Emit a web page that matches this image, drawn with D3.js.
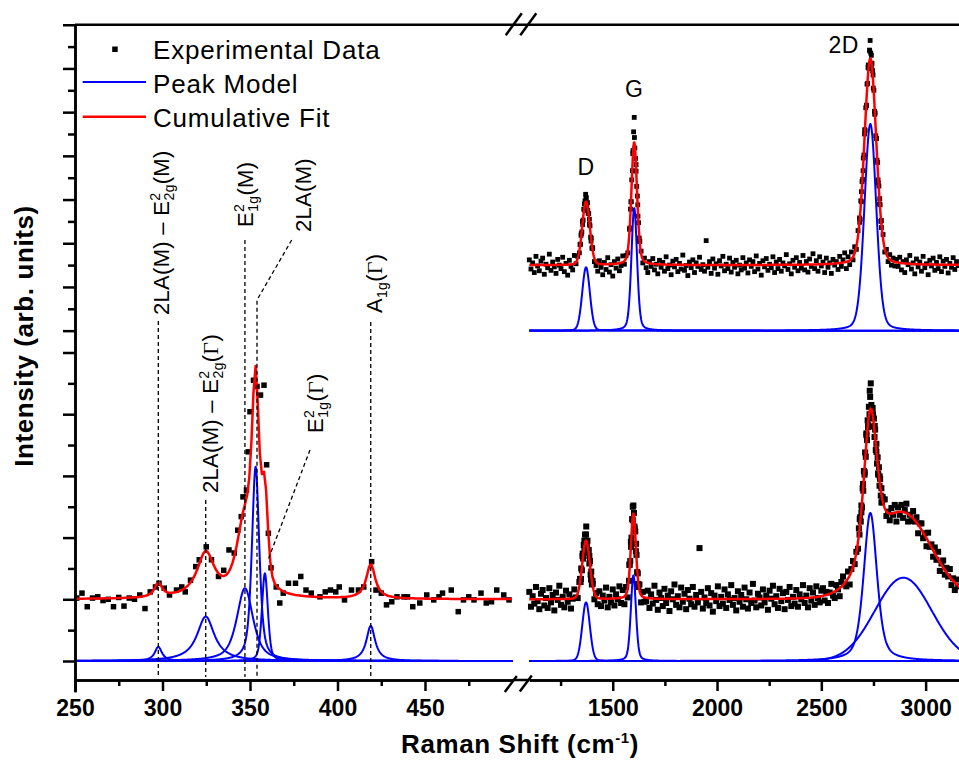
<!DOCTYPE html>
<html>
<head>
<meta charset="utf-8">
<script src="https://cdn.jsdelivr.net/npm/d3@7"></script>
<style>
  body { margin: 0; background: #fff; }
  svg { display: block; font-family: "Liberation Sans", Arial, sans-serif; }
  .axis .domain, .axis line { stroke: #000; stroke-width: 2.5; }
  .axis text { font-family: "Liberation Sans", Arial, sans-serif; font-weight: bold; font-size: 23px; fill: #000; }
</style>
</head>
<body>
<div id="chart"></div>
<script>
/* ---------- DATA ---------- */
// low wavenumber region (250-500 cm-1), [wavenumber, intensity]
const lowData = [[251,1.02],[254,1.10],[257,0.88],[260,1.02],[263,1.04],[266,0.98],[269,1.00],[272,0.88],[275,1.03],[278,0.89],
  [281,1.02],[284,1.00],[287,1.07],[290,0.85],[293,1.12],[296,1.20],[298,1.26],[301,1.18],[304,1.07],[308,1.15],
  [311,1.20],[313,1.12],[316,1.31],[319,1.53],[321,1.64],[325,1.85],[328,1.64],[332,1.37],[335,1.47],[338,1.80],
  [341,1.75],[343,2.12],[345,2.34],[346,2.66],[348,2.77],[349,3.39],[350,4.04],[352,4.55],[354,4.45],[356,4.31],
  [358,4.47],[359.5,3.18],[360.5,2.07],[362,1.51],[365,1.20],[367,0.94],[369,1.10],[372,1.26],[376,1.26],[379,1.37],
  [382,1.15],[385,1.10],[390,1.04],[393,1.12],[396,1.15],[399,1.12],[401,1.20],[404,0.99],[408,1.15],[412,1.15],
  [415,1.20],[419.5,1.61],[422,1.15],[425,1.10],[428,0.91],[431,0.96],[434,1.04],[438,1.04],[440,1.04],[443,0.88],
  [447,0.94],[451,1.07],[455,0.99],[458,1.04],[460,1.10],[465,1.15],[469,0.80],[472,0.99],[475,1.04],[478,0.99],
  [482,1.10],[485,0.94],[488,0.96],[491,1.15],[495,1.07],[498,0.99]];

// low region peak model
const lowCenter = [297.6, 324.7, 347.1, 353.2, 358.5, 419.0];
const lowHeight = [0.23, 0.72, 1.18, 3.15, 1.42, 0.57];
const lowFwhm = [5, 12, 11, 5, 4, 6];
const lowLorentz = [1, 1, 0.7, 0.6, 0.4, 1];
const lowOffset = 1.0;

// high wavenumber region, sampled every 8 cm-1 from 1100
const rightStart = 1100, rightStep = 8;
const topMain = [1.62,1.41,1.55,1.33,1.70,1.48,1.37,1.59,1.66,1.29,1.52,1.44,1.75,1.38,1.57,1.46,1.31,1.63,1.50,1.42,
  1.68,1.35,1.54,1.27,1.61,1.47,1.39,1.72,1.53,
  1.70,1.78,2.18,2.43,2.90,3.02,2.75,2.55,2.05,1.88,1.58,1.49,
  1.36,1.60,1.45,1.28,1.56,1.40,1.67,1.34,1.51,1.25,1.58,1.43,1.64,1.37,1.49,1.71,
  1.52,1.72,1.78,2.32,2.95,4.05,4.42,3.65,2.88,2.05,1.82,1.55,1.66,
  1.44,1.33,1.58,1.47,1.65,1.39,1.52,1.30,1.61,1.45,1.56,1.36,1.69,1.42,1.50,1.28,1.59,1.46,1.63,1.35,
  1.54,1.41,1.73,1.38,1.49,1.26,1.57,1.44,1.62,1.33,1.55,1.47,1.68,1.40,1.51,1.36,2.06,1.45,1.58,1.31,
  1.64,1.43,1.53,1.29,1.60,1.48,1.70,1.37,1.52,1.42,1.66,1.34,1.56,1.45,1.61,1.30,1.50,1.39,1.67,1.43,
  1.55,1.32,1.62,1.47,1.58,1.35,1.71,1.41,1.54,1.27,1.60,1.46,1.65,1.38,1.52,1.44,1.69,1.33,1.57,1.42,
  1.63,1.36,1.55,1.48,1.74,1.40,1.53,1.30,1.61,1.45,1.67,1.37,1.56,1.43,1.72,1.39,1.58,1.34,1.64,1.47,
  1.76,1.42,1.60,1.36,1.69,1.48,1.57,1.33,1.66,1.45,1.55,1.31,1.63,1.50,1.58,1.40,1.70,1.47,1.62,
  1.78,1.42,1.69,1.51,1.80,1.62,1.92,1.86,2.29,2.48,3.18,3.66,4.60,5.15,6.02,6.40,6.05,5.85,4.95,4.40,
  3.45,3.02,2.36,2.20,1.80,1.86,1.58,1.74,1.50,1.66,1.48,1.63,
  1.47,1.68,1.39,1.58,1.33,1.62,1.51,1.72,1.41,1.55,1.30,1.64,1.46,1.57,1.36,1.70,1.44,1.53,1.28,1.61,
  1.48,1.66,1.38,1.56,1.42,1.69,1.35,1.59,1.47,1.63,1.32,1.54,1.45,1.67,1.40,1.58,1.49];
const botMain = [1.12,0.88,1.05,0.93,1.20,0.97,0.84,1.09,1.15,0.90,1.02,0.86,1.18,0.95,1.07,0.82,1.11,0.99,1.22,0.91,
  1.04,0.87,1.14,0.96,1.08,0.85,1.01,1.16,1.03,
  1.02,1.28,1.33,1.74,1.95,2.05,1.78,1.70,1.32,1.25,1.00,1.10,
  0.92,1.13,0.89,1.06,0.98,1.19,0.87,1.04,0.95,1.16,0.90,1.08,1.00,1.21,0.94,
  1.15,0.92,1.20,1.03,1.56,1.85,2.50,2.18,1.90,1.25,1.24,0.95,1.12,0.96,
  0.97,1.14,0.86,1.08,0.93,1.22,0.99,0.83,1.11,1.02,0.89,1.17,0.94,1.06,0.81,1.13,1.00,1.24,0.91,1.05,
  0.87,1.19,0.96,1.09,0.84,1.15,1.01,0.92,1.20,0.88,1.07,0.95,1.83,1.12,0.85,1.03,0.94,1.18,0.90,1.10,
  0.80,1.06,0.97,1.21,0.89,1.04,0.93,1.16,0.86,1.08,0.99,1.23,0.91,1.02,0.82,1.13,0.96,1.07,0.88,1.19,
  1.00,0.85,1.11,0.94,1.25,0.98,0.87,1.09,1.03,0.90,1.16,0.95,1.06,0.83,1.14,1.01,1.22,0.92,1.05,0.86,
  1.17,0.97,1.10,0.84,1.12,0.99,1.20,0.89,1.04,0.93,1.15,0.88,1.08,1.00,1.23,0.94,1.06,0.87,1.18,0.98,
  1.11,0.91,1.21,1.02,0.95,1.14,
  1.18,0.98,1.12,0.94,1.11,1.25,1.06,1.02,1.23,1.16,1.05,1.28,1.37,1.24,1.21,1.45,1.24,1.49,1.62,1.57,
  1.77,1.82,2.30,2.41,2.87,3.06,3.69,3.79,4.38,3.94,4.00,3.81,3.39,3.04,2.99,2.57,2.62,2.62,2.35,2.42,
  2.28,2.48,2.37,2.53,2.26,2.49,2.37,2.53,2.32,2.45,2.55,2.26,2.37,2.27,2.43,2.26,2.33,2.07,2.23,2.23,
  1.99,2.07,1.86,2.08,1.85,1.89,1.69,1.84,1.64,1.77,1.46,1.58,1.63,1.40,1.51,1.37,1.49,1.23,1.34,1.15,
  1.32,1.21];

// denser samples across the peaks, every 3 cm-1
const coreStep = 3;
const topDStart = 1343, topDCore = [1.97,1.98,2.22,2.26,2.50,2.53,2.78,2.76,2.97,3.12,3.05,2.86,2.93,2.69,2.68,2.43,2.40,2.14,2.12,1.89,1.90];
const topGStart = 1582, topGCore = [2.35,2.78,2.95,3.45,3.66,4.12,4.55,4.88,4.18,3.94,3.80,3.30,3.08,2.62,2.47,2.12,2.04];
const top2DStart = 2683, top2DCore = [2.58,2.55,2.97,2.95,3.41,3.46,3.95,4.02,4.50,4.58,5.10,5.16,5.64,5.66,6.08,6.00,6.42,6.64,
  6.35,6.30,6.12,5.95,5.55,5.50,5.02,4.98,4.46,4.40,3.90,3.85,3.38,3.31,2.90,2.88,2.50,2.52];
const botDStart = 1343, botDCore = [1.33,1.28,1.50,1.47,1.70,1.66,1.88,1.80,2.05,1.90,2.18,1.87,1.95,1.76,1.80,1.58,1.62,1.40,1.45,1.24,1.30];
const botGStart = 1578, botGCore = [1.30,1.56,1.62,1.93,2.00,2.30,2.28,2.52,2.40,2.15,2.10,1.78,1.72,1.44,1.42,1.20];
const bot2DStart = 2680, bot2DCore = [2.15,2.05,2.33,2.26,2.52,2.49,2.80,2.76,3.08,3.02,3.38,3.31,3.66,3.58,3.90,3.82,4.12,4.00,4.28,4.50,
  4.15,3.96,4.10,3.80,3.93,3.63,3.75,3.42,3.52,3.20,3.30,3.02,3.14,2.84,2.95,2.68,2.80,2.57,2.66];

// high region peak models (D, G, 2D [, broad])
const topCenter = [1372, 1603, 2735];
const topHeight = [1.45, 2.81, 4.73];
const topFwhm = [43, 32, 67];
const topLorentz = [0.1, 0.3, 0.2];
const topOffset = 1.5;
const botCenter = [1372, 1599, 2735, 2893];
const botHeight = [0.95, 1.39, 2.4, 1.35];
const botFwhm = [43, 29, 75, 320];
const botLorentz = [0.1, 0.3, 0.5, 0];
const botOffset = 1.0;

/* ---------- SETUP ---------- */
const width = 959, height = 760;
const svg = d3.select("#chart").append("svg")
  .attr("width", width).attr("height", height);

const xL = d3.scaleLinear().domain([250, 500]).range([75, 512.5]);
const xR = d3.scaleLinear().domain([1100, 3160]).range([529.3, 959]);
const yTop = d3.scaleLinear().domain([-0.5, 7]).range([352.5, 24.75]);
const yBot = d3.scaleLinear().domain([-0.5, 5]).range([691.85, 352.5]);
const axisY = 680;

// pseudo-Voigt peak
function pv(x, c, h, w, eta) {
  const d = 2 * (x - c) / w;
  return h * ((1 - eta) * Math.exp(-Math.LN2 * d * d) + eta / (1 + d * d));
}
function sumPeaks(x, C, Hh, Wf, E) {
  let s = 0;
  for (let i = 0; i < C.length; i++) s += pv(x, C[i], Hh[i], Wf[i], E[i]);
  return s;
}
const series = (start, step, vals) => vals.map((v, i) => [start + i * step, v]);

/* ---------- DATA POINTS ---------- */
function squares(pts, xs, ys, s) {
  svg.append("g").selectAll("rect")
    .data(pts)
    .join("rect")
    .attr("x", d => xs(d[0]) - s / 2)
    .attr("y", d => ys(d[1]) - s / 2)
    .attr("width", s).attr("height", s)
    .attr("fill", "#000");
}
squares(lowData, xL, yBot, 5.5);
squares(series(rightStart, rightStep, topMain)
  .concat(series(topDStart, coreStep, topDCore), series(topGStart, coreStep, topGCore), series(top2DStart, coreStep, top2DCore)),
  xR, yTop, 4.8);
squares(series(rightStart, rightStep, botMain)
  .concat(series(botDStart, coreStep, botDCore), series(botGStart, coreStep, botGCore), series(bot2DStart, coreStep, bot2DCore)),
  xR, yBot, 6);

/* ---------- PEAK MODELS ---------- */
function curve(pts, xs, ys, color, w) {
  svg.append("path")
    .datum(pts)
    .attr("fill", "none")
    .attr("stroke", color)
    .attr("stroke-width", w)
    .attr("stroke-linejoin", "round")
    .attr("d", d3.line().x(d => xs(d[0])).y(d => ys(d[1])));
}
const gridL = d3.range(250, 500.001, 0.25);
const gridR = d3.range(1100, 3170, 2);

lowCenter.forEach((c, i) =>
  curve(gridL.map(x => [x, pv(x, c, lowHeight[i], lowFwhm[i], lowLorentz[i])]), xL, yBot, "#0000ff", 2));
topCenter.forEach((c, i) =>
  curve(gridR.map(x => [x, pv(x, c, topHeight[i], topFwhm[i], topLorentz[i])]), xR, yTop, "#0000ff", 2));
botCenter.forEach((c, i) =>
  curve(gridR.map(x => [x, pv(x, c, botHeight[i], botFwhm[i], botLorentz[i])]), xR, yBot, "#0000ff", 2));

// cumulative fits
curve(d3.range(250, 500.001, 1.2).map(x => [x, lowOffset + sumPeaks(x, lowCenter, lowHeight, lowFwhm, lowLorentz)]),
  xL, yBot, "#ff0000", 2.5);
curve(gridR.map(x => [x, topOffset + sumPeaks(x, topCenter, topHeight, topFwhm, topLorentz)]), xR, yTop, "#ff0000", 2.5);
curve(gridR.map(x => [x, botOffset + sumPeaks(x, botCenter, botHeight, botFwhm, botLorentz)]), xR, yBot, "#ff0000", 2.5);

/* ---------- AXES ---------- */
function xAxis(scale, major, minor) {
  svg.append("g").attr("class", "axis").attr("transform", `translate(0,${axisY})`)
    .call(d3.axisBottom(scale).tickValues(minor).tickSize(6).tickSizeOuter(0).tickFormat(""));
  svg.append("g").attr("class", "axis").attr("transform", `translate(0,${axisY})`)
    .call(d3.axisBottom(scale).tickValues(major).tickSize(11).tickSizeOuter(0).tickPadding(9).tickFormat(d3.format("d")));
}
xAxis(xL, [250, 300, 350, 400, 450], [275, 325, 375, 425, 475]);
xAxis(xR, [1500, 2000, 2500, 3000], [1250, 1750, 2250, 2750]);

function yAxis(scale, major, minor) {
  svg.append("g").attr("class", "axis").attr("transform", "translate(75,0)")
    .call(d3.axisLeft(scale).tickValues(minor).tickSize(7).tickSizeOuter(0).tickFormat(""));
  svg.append("g").attr("class", "axis").attr("transform", "translate(75,0)")
    .call(d3.axisLeft(scale).tickValues(major).tickSize(12).tickSizeOuter(0).tickFormat(""));
}
yAxis(yTop, [0, 1, 2, 3, 4, 5, 6, 7], [0.5, 1.5, 2.5, 3.5, 4.5, 5.5, 6.5]);
yAxis(yBot, [0, 1, 2, 3, 4, 5], [0.5, 1.5, 2.5, 3.5, 4.5]);

// top frame line and the gap of the bottom axis
svg.append("line").attr("x1", 75).attr("x2", width).attr("y1", yTop(7)).attr("y2", yTop(7))
  .attr("stroke", "#000").attr("stroke-width", 2.5);
svg.append("line").attr("x1", xL(500)).attr("x2", xR(1100)).attr("y1", axisY).attr("y2", axisY)
  .attr("stroke", "#000").attr("stroke-width", 2.5);

// axis break marks
function slash(cx, cy, dx, dy) {
  svg.append("line")
    .attr("x1", cx - dx).attr("y1", cy + dy).attr("x2", cx + dx).attr("y2", cy - dy)
    .attr("stroke", "#000").attr("stroke-width", 2.5);
}
slash(510.8, 684, 6, 8);
slash(525.8, 683.5, 6, 8);
slash(513.8, 24.2, 8, 11);
slash(528.3, 24.2, 8, 11);

/* ---------- TITLES ---------- */
svg.append("text")
  .attr("transform", "translate(33,336) rotate(-90)")
  .attr("text-anchor", "middle")
  .attr("font-weight", "bold").attr("font-size", 26).attr("letter-spacing", 0.6)
  .text("Intensity (arb. units)");

const xt = svg.append("text")
  .attr("x", 520).attr("y", 753)
  .attr("text-anchor", "middle")
  .attr("font-weight", "bold").attr("font-size", 26).attr("letter-spacing", 0.6);
xt.append("tspan").text("Raman Shift (cm");
xt.append("tspan").attr("dy", -10).attr("font-size", 15).text("-1");
xt.append("tspan").attr("dy", 10).text(")");

/* ---------- LEGEND ---------- */
const legend = svg.append("g").attr("font-size", 26).attr("letter-spacing", 0.8);
legend.append("rect").attr("x", 112.2).attr("y", 46.5).attr("width", 5.5).attr("height", 5.5).attr("fill", "#000");
legend.append("text").attr("x", 153).attr("y", 59).text("Experimental Data");
legend.append("line").attr("x1", 82.7).attr("x2", 146).attr("y1", 82).attr("y2", 82)
  .attr("stroke", "#0000ff").attr("stroke-width", 2);
legend.append("text").attr("x", 153).attr("y", 92.7).text("Peak Model");
legend.append("line").attr("x1", 82.7).attr("x2", 146).attr("y1", 116.7).attr("y2", 116.7)
  .attr("stroke", "#ff0000").attr("stroke-width", 2.5);
legend.append("text").attr("x", 153).attr("y", 126.7).text("Cumulative Fit");

/* ---------- PEAK LABELS ---------- */
const plab = svg.append("g").attr("font-size", 23).attr("text-anchor", "middle").attr("letter-spacing", 0.5);
plab.append("text").attr("x", xR(1372)).attr("y", 175).text("D");
plab.append("text").attr("x", xR(1603)).attr("y", 97).text("G");
plab.append("text").attr("x", 843.7).attr("y", 53).text("2D");

// rotated mode labels: parts are [text, kind] with kind "", "sup", "sub", "subAfterSup", "g"
function modeLabel(x, y, parts) {
  const t = svg.append("text")
    .attr("transform", `translate(${x},${y}) rotate(-90)`)
    .attr("font-size", 22).attr("letter-spacing", 0.3);
  let level = 0;
  parts.forEach(([s, kind]) => {
    const sp = t.append("tspan").text(s);
    let target = 0, dx = 0;
    if (kind === "sup") target = -9;
    if (kind === "sub") target = 5;
    if (kind === "subAfterSup") { target = 5; dx = -7.8; }
    if (kind === "sup" || kind === "sub" || kind === "subAfterSup") sp.attr("font-size", 14);
    if (kind === "g") sp.attr("font-family", "'Liberation Serif', serif");
    if (dx) sp.attr("dx", dx);
    if (target !== level) sp.attr("dy", target - level);
    level = target;
  });
}
modeLabel(169, 315, [["2LA(M) – E", ""], ["2", "sup"], ["2g", "subAfterSup"], ["(M)", ""]]);
modeLabel(218, 493, [["2LA(M) – E", ""], ["2", "sup"], ["2g", "subAfterSup"], ["(", ""], ["Γ", "g"], [")", ""]]);
modeLabel(253, 227, [["E", ""], ["2", "sup"], ["1g", "subAfterSup"], ["(M)", ""]]);
modeLabel(311, 232, [["2LA(M)", ""]]);
modeLabel(323, 433, [["E", ""], ["2", "sup"], ["1g", "subAfterSup"], ["(", ""], ["Γ", "g"], [")", ""]]);
modeLabel(381.7, 313, [["A", ""], ["1g", "sub"], ["(", ""], ["Γ", "g"], [")", ""]]);

// dashed leader lines
function leader(pts) {
  svg.append("path")
    .attr("d", d3.line()(pts))
    .attr("fill", "none").attr("stroke", "#000")
    .attr("stroke-width", 1.3).attr("stroke-dasharray", "4,3");
}
leader([[xL(297.6), 321], [xL(297.6), 677]]);
leader([[xL(324.7), 500], [xL(324.7), 677]]);
leader([[xL(347.1), 240], [xL(347.1), 677]]);
leader([[291.7, 240], [xL(354), 300], [xL(354), 677]]);
leader([[310, 450], [268, 560]]);
leader([[xL(419), 322], [xL(419), 677]]);
</script>
</body>
</html>
